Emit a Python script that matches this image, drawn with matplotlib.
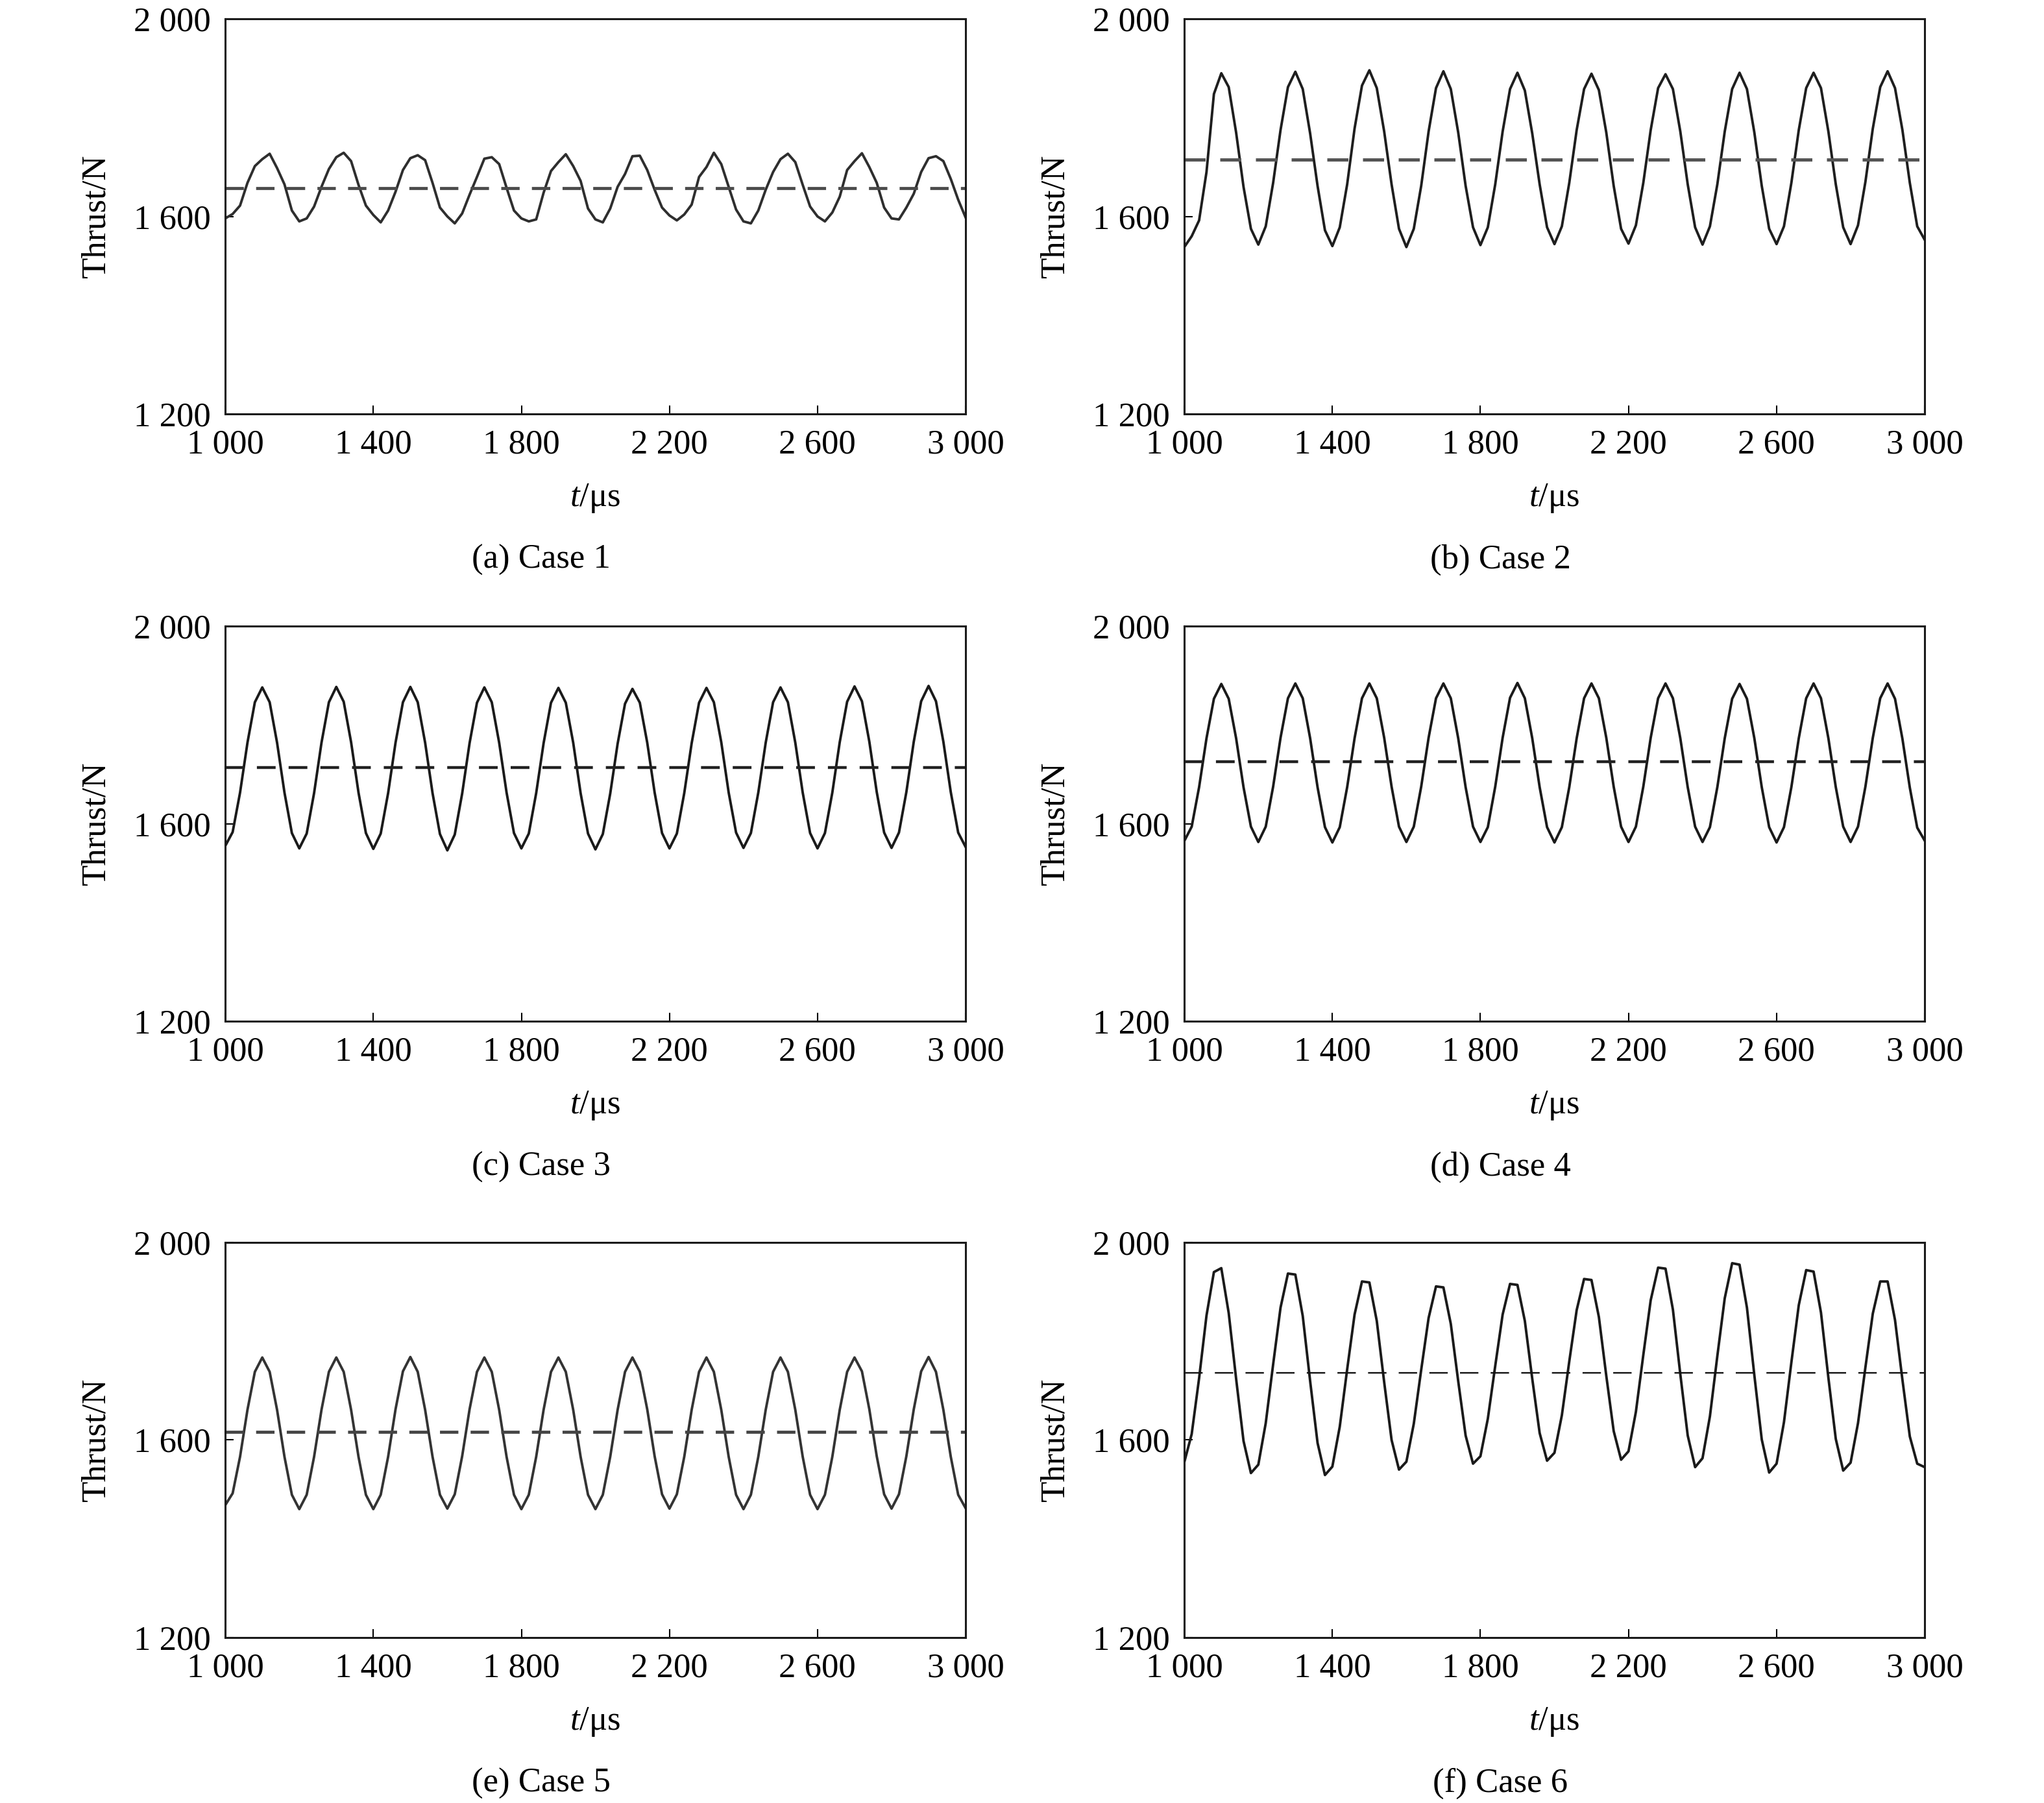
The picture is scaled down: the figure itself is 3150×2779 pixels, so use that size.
import matplotlib.pyplot as plt
from matplotlib.ticker import FixedLocator, FixedFormatter

plt.rcParams['font.family'] = ['Liberation Serif', 'DejaVu Serif']
plt.rcParams['mathtext.fontset'] = 'custom'
plt.rcParams['mathtext.rm'] = 'Liberation Serif'
plt.rcParams['mathtext.it'] = 'Liberation Serif:italic'

# time axis, one value every 20 us
t_us = list(range(1000, 3001, 20))

# thrust (N)
thrust_case1 = [
    1596, 1605, 1622, 1668, 1702, 1716, 1727, 1698, 1665, 1612,
    1590, 1596, 1620, 1660, 1696, 1720, 1729, 1712, 1664, 1622,
    1603, 1588, 1612, 1650, 1694, 1718, 1724, 1714, 1668, 1618,
    1600, 1586, 1606, 1644, 1680, 1717, 1720, 1706, 1658, 1612,
    1596, 1590, 1594, 1648, 1692, 1710, 1726, 1702, 1672, 1616,
    1594, 1588, 1616, 1660, 1686, 1722, 1723, 1694, 1654, 1618,
    1602, 1592, 1604, 1624, 1680, 1700, 1729, 1706, 1660, 1614,
    1590, 1586, 1612, 1654, 1690, 1716, 1727, 1710, 1664, 1620,
    1600, 1590, 1608, 1640, 1694, 1712, 1728, 1700, 1668, 1618,
    1596, 1594, 1618, 1646, 1690, 1718, 1722, 1712, 1676, 1634,
    1598]
thrust_case2 = [
    1538, 1560, 1592, 1690, 1848, 1890, 1862, 1770, 1660, 1575,
    1543, 1580, 1668, 1775, 1862, 1893, 1858, 1768, 1662, 1572,
    1540, 1578, 1665, 1778, 1865, 1896, 1860, 1772, 1665, 1575,
    1538, 1575, 1662, 1772, 1860, 1894, 1858, 1770, 1662, 1578,
    1542, 1578, 1665, 1772, 1858, 1891, 1855, 1768, 1665, 1578,
    1544, 1580, 1668, 1775, 1858, 1889, 1856, 1770, 1662, 1575,
    1545, 1582, 1668, 1775, 1860, 1888, 1858, 1772, 1665, 1578,
    1543, 1580, 1665, 1772, 1858, 1891, 1858, 1770, 1662, 1575,
    1544, 1580, 1668, 1775, 1860, 1891, 1860, 1772, 1665, 1578,
    1544, 1582, 1670, 1778, 1862, 1894, 1860, 1775, 1668, 1580,
    1553]
thrust_case3 = [
    1555, 1583, 1663, 1764, 1846, 1876, 1846, 1764, 1663, 1581,
    1550, 1580, 1662, 1764, 1846, 1877, 1847, 1765, 1663, 1581,
    1549, 1580, 1662, 1764, 1846, 1877, 1846, 1764, 1662, 1579,
    1546, 1578, 1661, 1763, 1845, 1876, 1846, 1764, 1663, 1581,
    1550, 1580, 1662, 1763, 1845, 1875, 1845, 1764, 1662, 1580,
    1548, 1579, 1661, 1762, 1843, 1873, 1845, 1764, 1663, 1581,
    1550, 1580, 1662, 1763, 1845, 1875, 1846, 1765, 1663, 1582,
    1551, 1581, 1663, 1764, 1846, 1876, 1846, 1764, 1663, 1581,
    1550, 1581, 1663, 1765, 1847, 1878, 1848, 1766, 1664, 1582,
    1551, 1582, 1664, 1766, 1848, 1879, 1848, 1766, 1664, 1582,
    1553]
thrust_case4 = [
    1565, 1594, 1674, 1773, 1853, 1883, 1853, 1773, 1674, 1594,
    1563, 1594, 1675, 1774, 1854, 1884, 1854, 1773, 1674, 1593,
    1562, 1593, 1674, 1773, 1854, 1884, 1854, 1774, 1675, 1594,
    1563, 1594, 1675, 1774, 1854, 1884, 1854, 1773, 1674, 1594,
    1563, 1593, 1675, 1774, 1855, 1885, 1854, 1773, 1674, 1593,
    1562, 1593, 1674, 1773, 1854, 1884, 1854, 1774, 1675, 1594,
    1563, 1594, 1675, 1774, 1854, 1884, 1854, 1773, 1674, 1594,
    1563, 1593, 1674, 1773, 1853, 1883, 1853, 1773, 1674, 1593,
    1562, 1593, 1674, 1773, 1854, 1884, 1854, 1773, 1674, 1594,
    1563, 1594, 1675, 1774, 1854, 1884, 1853, 1772, 1673, 1592,
    1566]
thrust_case5 = [
    1468, 1492, 1566, 1661, 1738, 1767, 1738, 1661, 1566, 1489,
    1460, 1489, 1566, 1661, 1738, 1767, 1738, 1661, 1566, 1489,
    1460, 1489, 1566, 1662, 1739, 1768, 1738, 1661, 1566, 1489,
    1461, 1490, 1567, 1662, 1738, 1767, 1738, 1661, 1566, 1489,
    1460, 1489, 1566, 1661, 1738, 1767, 1738, 1661, 1566, 1489,
    1460, 1489, 1566, 1661, 1738, 1767, 1738, 1662, 1567, 1490,
    1461, 1490, 1566, 1661, 1738, 1767, 1738, 1661, 1566, 1489,
    1460, 1489, 1566, 1661, 1738, 1767, 1738, 1661, 1566, 1489,
    1460, 1489, 1566, 1661, 1738, 1767, 1739, 1662, 1567, 1490,
    1461, 1490, 1567, 1662, 1739, 1768, 1738, 1661, 1566, 1489,
    1462]
thrust_case6 = [
    1555, 1612, 1725, 1852, 1940, 1948, 1857, 1724, 1598, 1533,
    1550, 1634, 1753, 1868, 1937, 1935, 1851, 1719, 1594, 1529,
    1546, 1627, 1743, 1854, 1921, 1919, 1841, 1717, 1600, 1540,
    1556, 1633, 1742, 1847, 1911, 1909, 1835, 1719, 1609, 1552,
    1567, 1643, 1750, 1854, 1916, 1914, 1841, 1724, 1614, 1558,
    1574, 1650, 1759, 1863, 1926, 1924, 1849, 1730, 1618, 1560,
    1577, 1657, 1772, 1883, 1949, 1947, 1864, 1733, 1609, 1545,
    1563, 1648, 1770, 1887, 1958, 1955, 1868, 1731, 1601, 1534,
    1552, 1636, 1757, 1873, 1944, 1941, 1858, 1726, 1602, 1538,
    1554, 1634, 1747, 1856, 1921, 1921, 1843, 1722, 1607, 1552,
    1545]

# time-averaged thrust (dashed lines)
mean_thrust = [1657, 1715, 1714, 1725, 1617, 1736]

series = [thrust_case1, thrust_case2, thrust_case3,
          thrust_case4, thrust_case5, thrust_case6]
captions = ["(a) Case 1", "(b) Case 2", "(c) Case 3",
            "(d) Case 4", "(e) Case 5", "(f) Case 6"]

x_ticks = [1000, 1400, 1800, 2200, 2600, 3000]
x_tick_labels = ["1 000", "1 400", "1 800", "2 200", "2 600", "3 000"]
y_ticks = [1200, 1600, 2000]
y_tick_labels = ["1 200", "1 600", "2 000"]

# axes boxes in figure fractions (left, bottom)
lefts = [0.1102, 0.5794]
bottoms = [0.7704, 0.4336, 0.0918]
w, h = 0.3622, 0.2191

# dashed-line look per panel: colour, width, dash pattern
dash_styles = [("#4a4a4a", 3.4, (6.0, 4.0)),
               ("#555555", 3.6, (6.5, 4.5)),
               ("#222222", 3.2, (6.5, 4.5)),
               ("#222222", 3.2, (6.5, 4.5)),
               ("#444444", 3.4, (6.0, 4.0)),
               ("#111111", 1.7, (12.0, 8.0))]
line_colors = ["#2e2e2e", "#1e1e1e", "#1a1a1a", "#1a1a1a", "#333333", "#1a1a1a"]

fs = 38
fig = plt.figure(figsize=(31.5, 27.79), dpi=100)

for i in range(6):
    ax = fig.add_axes([lefts[i % 2], bottoms[i // 2], w, h])
    ax.plot(t_us, series[i], color=line_colors[i], lw=2.8)
    c, lw, dsh = dash_styles[i]
    ax.axhline(mean_thrust[i], color=c, lw=lw, dashes=dsh)
    ax.set_xlim(1000, 3000)
    ax.set_ylim(1200, 2000)
    ax.xaxis.set_major_locator(FixedLocator(x_ticks))
    ax.xaxis.set_major_formatter(FixedFormatter(x_tick_labels))
    ax.yaxis.set_major_locator(FixedLocator(y_ticks))
    ax.yaxis.set_major_formatter(FixedFormatter(y_tick_labels))
    ax.tick_params(direction="in", length=9.5, width=1.5, labelsize=fs,
                   top=False, right=False)
    ax.tick_params(axis="x", pad=17)
    ax.tick_params(axis="y", pad=16)
    for s in ax.spines.values():
        s.set_linewidth(2.2)
        s.set_color("#1a1a1a")
    ax.set_ylabel("Thrust/N", fontsize=fs, labelpad=24)
    ax.set_xlabel(r"$t$/μs", fontsize=fs, labelpad=24)
    ax.text(0.427, -0.37, captions[i], transform=ax.transAxes,
            fontsize=fs, ha="center", va="center")

fig.savefig("out.png", dpi=100)
